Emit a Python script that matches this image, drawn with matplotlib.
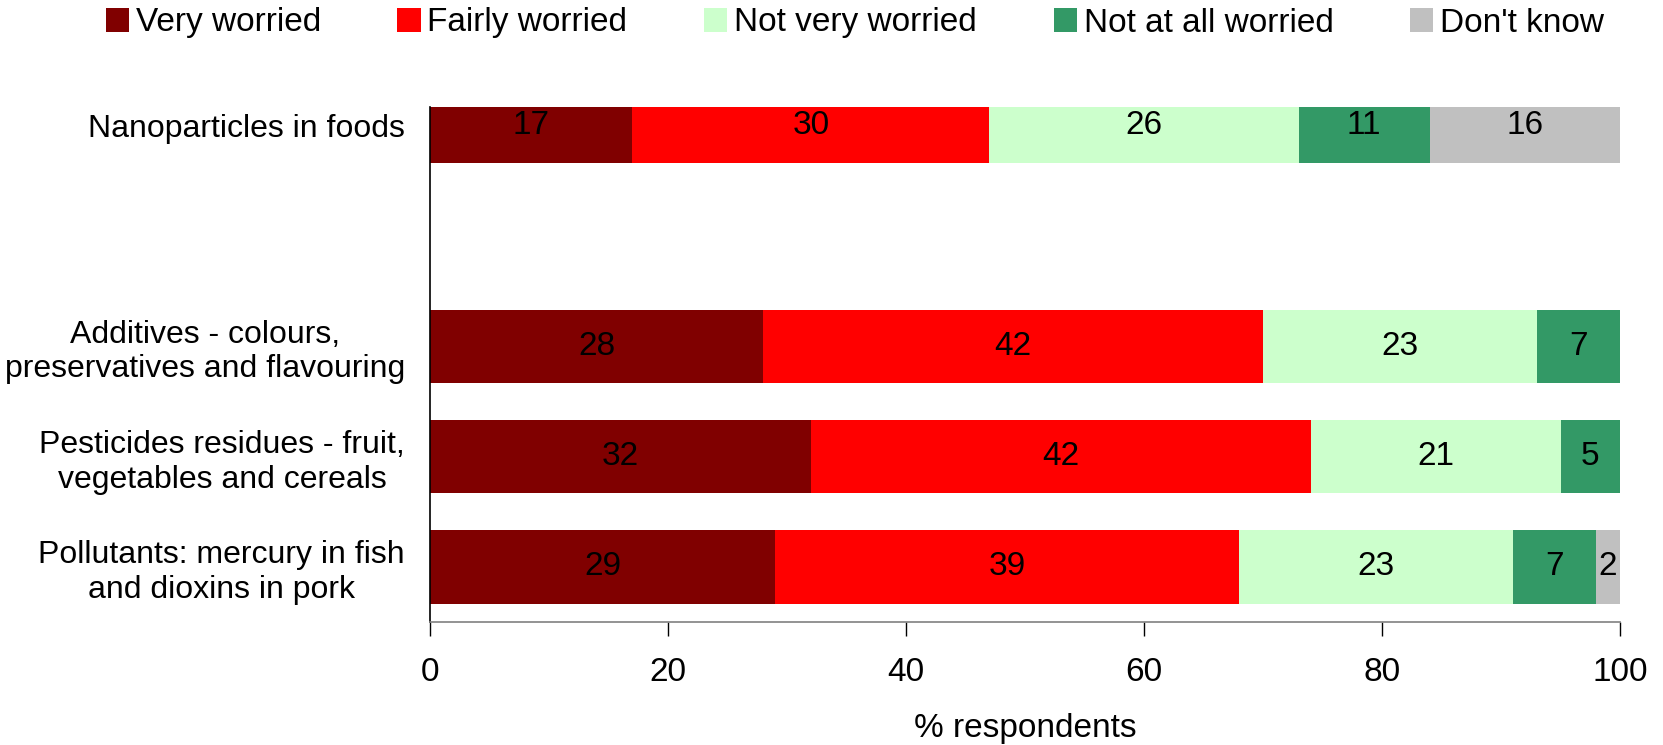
import matplotlib
matplotlib.use("Agg")
import matplotlib.pyplot as plt
from matplotlib.patches import Patch

plt.rcParams['font.family'] = ['Liberation Sans', 'DejaVu Sans']

categories = [
    "Pollutants: mercury in fish\nand dioxins in pork",
    "Pesticides residues - fruit,\nvegetables and cereals",
    "Additives - colours,\npreservatives and flavouring",
    "Nanoparticles in foods",
]
positions = [0, 1, 2, 4]  # row 3 left empty as a separator

series = ["Very worried", "Fairly worried", "Not very worried",
          "Not at all worried", "Don't know"]
very_worried = [29, 32, 28, 17]
fairly_worried = [39, 42, 42, 30]
not_very_worried = [23, 21, 23, 26]
not_at_all_worried = [7, 5, 7, 11]
dont_know = [2, 0, 0, 16]
colors = ["#800000", "#FF0000", "#CCFFCC", "#339966", "#C0C0C0"]

values = [very_worried, fairly_worried, not_very_worried,
          not_at_all_worried, dont_know]

FS = 24
fig = plt.figure(figsize=(16.63, 7.45), dpi=100)
ax = fig.add_axes([430 / 1663, 1 - 622 / 745, (1620 - 430) / 1663, (622 - 107) / 745])

left = [0] * len(categories)
for name, vals, col in zip(series, values, colors):
    ax.barh(positions, vals, left=left, height=0.667, color=col,
            edgecolor='none', label=name)
    for y, v, l in zip(positions, vals, left):
        if v > 0:
            ax.text(l + v / 2, y, f"{v}", ha='center', va='center',
                    fontsize=FS, color='black')
    left = [a + b for a, b in zip(left, vals)]

ax.set_xlim(0, 100)
ax.set_ylim(-0.5, 4.17)
ax.set_xticks([0, 20, 40, 60, 80, 100])
ax.set_yticks(positions)
ax.set_yticklabels(categories, multialignment='center')
ax.tick_params(axis='y', length=0, pad=18, labelsize=23)
ax.tick_params(axis='x', length=10, width=1, direction='out', pad=15,
               labelsize=FS, color='black')
ax.spines['top'].set_visible(False)
ax.spines['right'].set_visible(False)
ax.spines['left'].set_color('black')
ax.spines['left'].set_linewidth(1.2)
ax.spines['bottom'].set_color('#808080')
ax.spines['bottom'].set_linewidth(1.2)
ax.set_xlabel("% respondents", fontsize=FS, labelpad=18)

handles = [Patch(facecolor=c, edgecolor='none') for c in colors]
fig.legend(handles, series, loc='center', bbox_to_anchor=(0.514, 1 - 23 / 745),
           ncol=5, frameon=False, fontsize=FS, handlelength=0.7,
           handleheight=0.7, handletextpad=0.2, columnspacing=2.3)

fig.savefig("out.png", dpi=100, facecolor='white')
